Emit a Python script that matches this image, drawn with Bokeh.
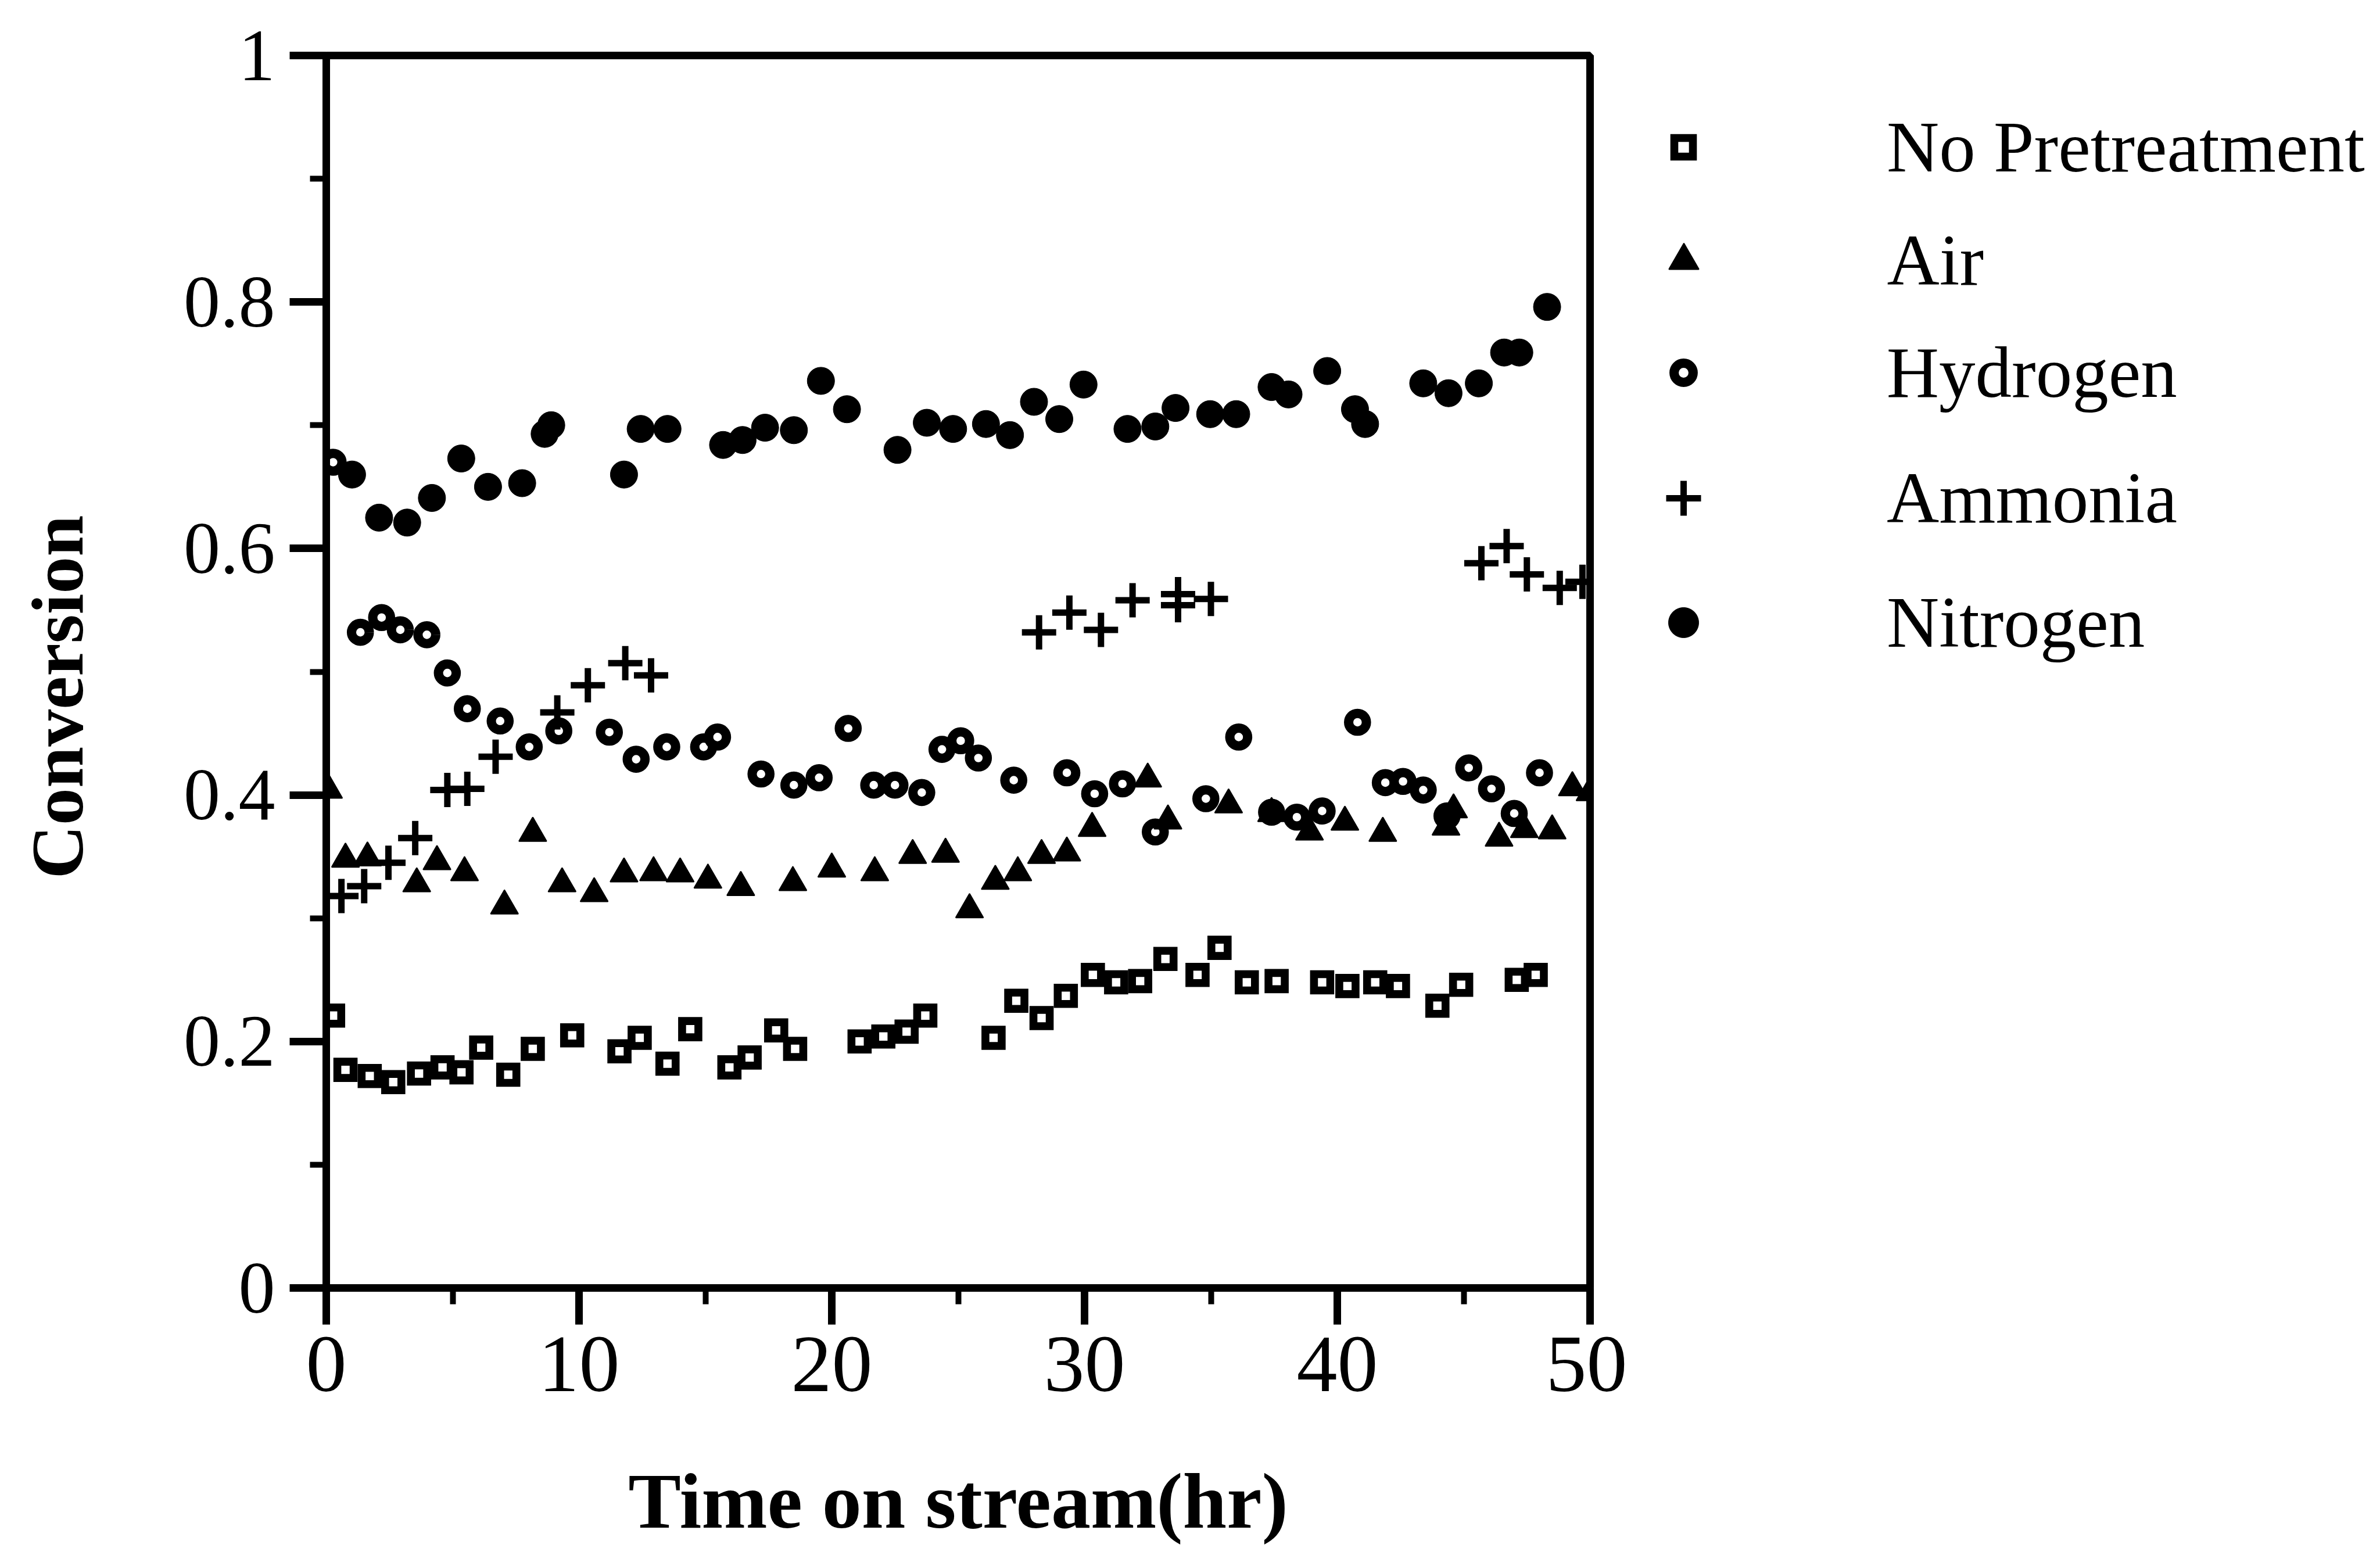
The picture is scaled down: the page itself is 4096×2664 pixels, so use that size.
import math
from bokeh.plotting import figure
from bokeh.layouts import row
from bokeh.models import (Range1d, FixedTicker, CustomJSTickFormatter, Legend,
                          LegendItem, Label)
from bokeh.embed import file_html
from bokeh.resources import INLINE

# ---------------- data ----------------
none_x = [0.27, 0.76, 1.72, 2.65, 3.67, 4.6, 5.35, 6.13, 7.2, 8.17, 9.73, 11.6, 12.4,
          13.5, 14.4, 15.95, 16.75, 17.8, 18.55, 21.1, 22.04, 22.96, 23.7, 26.4, 27.3,
          28.3, 29.26, 30.33, 31.25, 32.2, 33.2, 34.47, 35.34, 36.42, 37.6, 39.4, 40.4,
          41.5, 42.4, 43.96, 44.9, 47.1, 47.85]
none_y = [0.221, 0.177, 0.172, 0.167, 0.174, 0.179, 0.175, 0.195, 0.173, 0.194, 0.205,
          0.192, 0.203, 0.182, 0.21, 0.179, 0.187, 0.209, 0.194, 0.2, 0.204, 0.208, 0.221,
          0.203, 0.233, 0.219, 0.237, 0.254, 0.248, 0.249, 0.267, 0.254, 0.276, 0.248,
          0.249, 0.248, 0.245, 0.248, 0.245, 0.229, 0.246, 0.25, 0.254]

air_x = [0.09, 0.76, 1.63, 3.58, 4.38, 5.47, 7.05, 8.17, 9.33, 10.6, 11.78, 12.95, 14.0,
         15.1, 16.4, 18.46, 20.0, 21.7, 23.2, 24.5, 25.45, 26.47, 27.36, 28.3, 29.3, 30.3,
         32.5, 33.3, 35.7, 37.4, 38.9, 40.3, 41.8, 44.3, 44.6, 46.4, 47.4, 48.5, 49.3, 50.0]
air_y = [0.404, 0.348, 0.349, 0.328, 0.346, 0.337, 0.31, 0.369, 0.328, 0.32, 0.336, 0.337,
         0.336, 0.331, 0.325, 0.329, 0.34, 0.337, 0.351, 0.352, 0.307, 0.33, 0.337, 0.351,
         0.353, 0.373, 0.413, 0.379, 0.392, 0.385, 0.37, 0.378, 0.369, 0.374, 0.388, 0.365,
         0.372, 0.371, 0.406, 0.402]

h2_x = [0.27, 1.35, 2.19, 2.93, 3.98, 4.79, 5.58, 6.88, 8.03, 9.2, 11.2, 12.26, 13.47,
        14.93, 15.48, 17.2, 18.5, 19.5, 20.65, 21.66, 22.5, 23.56, 24.36, 25.1, 25.8,
        27.2, 29.3, 30.4, 31.5, 32.8, 34.8, 36.1, 37.4, 38.4, 39.4, 40.8, 41.9, 42.6,
        43.4, 44.34, 45.2, 46.1, 47.0, 48.0]
h2_y = [0.67, 0.532, 0.544, 0.534, 0.53, 0.499, 0.47, 0.46, 0.439, 0.452, 0.451, 0.429,
        0.439, 0.439, 0.447, 0.417, 0.408, 0.414, 0.454, 0.408, 0.408, 0.402, 0.437, 0.444,
        0.43, 0.412, 0.418, 0.401, 0.409, 0.37, 0.397, 0.447, 0.386, 0.382, 0.387, 0.459,
        0.41, 0.411, 0.404, 0.383, 0.422, 0.405, 0.385, 0.418]

nh3_x = [0.6, 1.5, 2.46, 3.52, 4.79, 5.58, 6.7, 9.14, 10.35, 11.83, 12.85, 28.2, 29.4,
         30.65, 31.9, 33.7, 33.7, 35.0, 45.7, 46.7, 47.5, 48.8, 49.7]
nh3_y = [0.318, 0.326, 0.345, 0.365, 0.404, 0.405, 0.431, 0.467, 0.489, 0.507, 0.497,
         0.532, 0.548, 0.534, 0.558, 0.563, 0.554, 0.559, 0.588, 0.602, 0.579, 0.568, 0.573]

n2_x = [1.02, 2.09, 3.2, 4.18, 5.34, 6.4, 7.75, 8.64, 8.9, 11.78, 12.44, 13.5, 15.7, 16.47,
        17.36, 18.5, 19.57, 20.6, 22.6, 23.76, 24.8, 26.1, 27.05, 28.0, 29.0, 29.96, 31.7,
        32.8, 33.6, 34.97, 36.0, 37.4, 38.07, 39.6, 40.7, 41.1, 43.4, 44.4, 45.6, 46.6,
        47.2, 48.3]
n2_y = [0.66, 0.625, 0.621, 0.641, 0.673, 0.65, 0.653, 0.693, 0.7, 0.66, 0.697, 0.697,
        0.684, 0.688, 0.698, 0.696, 0.736, 0.713, 0.68, 0.702, 0.697, 0.701, 0.692, 0.719,
        0.705, 0.733, 0.697, 0.699, 0.714, 0.709, 0.709, 0.731, 0.725, 0.744, 0.713, 0.701,
        0.734, 0.726, 0.734, 0.759, 0.759, 0.796]

series_labels = ["No Pretreatment", "Air", "Hydrogen", "Ammonia", "Nitrogen"]

x_ticks = [0, 10, 20, 30, 40, 50]
x_minor = [5, 15, 25, 35, 45]
x_tick_labels = ["0", "10", "20", "30", "40", "50"]
y_ticks = [0, 0.2, 0.4, 0.6, 0.8, 1]
y_minor = [0.1, 0.3, 0.5, 0.7, 0.9]
y_tick_labels = ["0", "0.2", "0.4", "0.6", "0.8", "1"]

x_title = "Time on stream(hr)"
y_title = "Conversion"

# ---------------- styles ----------------
FONT = "Liberation Serif"
W, H = 4096, 2664
TW = 200                               # width of the y-title strip
PW = 2800                              # right edge of the plot figure
FL, FR, FT, FB = 561, 2736, 95, 2216   # frame edges in px (page coords)

styles = [
    dict(marker="square", size=28, fill_color="white", line_color="black",
         line_width=13.6, line_join="miter"),
    dict(marker="triangle", size=46, fill_color="black", line_color="black",
         line_width=3, line_join="round"),
    dict(marker="circle", size=30.6, fill_color="white", line_color="black",
         line_width=16),
    dict(marker="cross", size=59, line_color="black", line_width=11),
    dict(marker="circle", size=47, fill_color="black", line_color="black",
         line_width=1),
]


def blank(width, left=0, right=0):
    f = figure(width=width, height=H, output_backend="svg", toolbar_location=None,
               x_range=Range1d(0, 1), y_range=Range1d(0, 1),
               x_axis_type=None, y_axis_type=None,
               min_border_left=left, min_border_right=right,
               min_border_top=FT, min_border_bottom=H - FB)
    f.outline_line_color = None
    f.background_fill_color = "white"
    f.border_fill_color = "white"
    return f


# ---------------- y-title strip ----------------
yt = blank(TW)
yt.add_layout(Label(x=98, y=FB - 1199, x_units="screen", y_units="screen",
                    text=y_title, text_font=FONT, text_font_style="bold",
                    text_font_size="128px", text_align="center", angle=math.pi / 2,
                    text_baseline="middle", text_color="black"))

# ---------------- main figure ----------------
p = figure(width=PW - TW, height=H, output_backend="svg", toolbar_location=None,
           x_range=Range1d(0, 50), y_range=Range1d(0, 1),
           min_border_left=FL - TW, min_border_right=PW - FR,
           min_border_top=FT, min_border_bottom=H - FB)
p.grid.visible = False
p.background_fill_color = "white"
p.border_fill_color = "white"
p.outline_line_color = "black"
p.outline_line_width = 13

for ax, ticks, minor, labels in ((p.xaxis[0], x_ticks, x_minor, x_tick_labels),
                                 (p.yaxis[0], y_ticks, y_minor, y_tick_labels)):
    ax.ticker = FixedTicker(ticks=ticks, minor_ticks=minor)
    ax.formatter = CustomJSTickFormatter(code="return String(tick)")
    ax.major_label_overrides = dict(zip(ticks, labels))
    ax.axis_line_color = "black"
    ax.axis_line_width = 13
    ax.major_tick_line_width = 13
    ax.minor_tick_line_width = 10
    ax.major_tick_in = 0
    ax.major_tick_out = 63
    ax.minor_tick_in = 0
    ax.minor_tick_out = 28
    ax.major_label_text_font = FONT
    ax.major_label_text_color = "black"

p.xaxis.major_label_text_font_size = "140px"
p.xaxis.major_label_standoff = 22
p.xaxis.axis_label = x_title
p.xaxis.axis_label_text_font = FONT
p.xaxis.axis_label_text_font_style = "bold"
p.xaxis.axis_label_text_color = "black"
p.xaxis.axis_label_text_font_size = "136px"
p.xaxis.axis_label_standoff = 111

p.yaxis.major_label_text_font_size = "126px"
p.yaxis.major_label_standoff = 25

series = [(none_x, none_y), (air_x, air_y), (h2_x, h2_y), (nh3_x, nh3_y), (n2_x, n2_y)]
draw_order = [0, 2, 1, 3, 4]
for i in draw_order:
    xs, ys = series[i]
    p.scatter(xs, ys, **styles[i])

# ---------------- legend panel ----------------
leg = blank(W - PW)
legend_sizes = [32, 50, 33, 60, 52]
marker_cy = [253, 448, 641, 857, 1071]   # px from top of the page
marker_cx = 2897 - PW                    # px from left of legend figure
label_x = 3247 - PW
GH = 170
for (xs, ys), st, lab, sz, cy in zip(series, styles, series_labels, legend_sizes,
                                     marker_cy):
    r = leg.scatter(xs, ys, visible=False, **st)
    gw = sz / 0.4
    lg = Legend(items=[LegendItem(label=lab, renderers=[r])],
                location=(marker_cx - gw / 2, FB - cy - GH / 2),
                glyph_width=int(round(gw)), glyph_height=GH,
                label_standoff=int(round(label_x - marker_cx - gw / 2)),
                padding=0, margin=0, spacing=0,
                border_line_color=None, background_fill_alpha=0,
                inactive_fill_alpha=0,
                label_text_font=FONT, label_text_font_size="125px",
                label_text_color="black")
    leg.add_layout(lg, "center")

open("out.html", "w").write(file_html(row(yt, p, leg), INLINE))
